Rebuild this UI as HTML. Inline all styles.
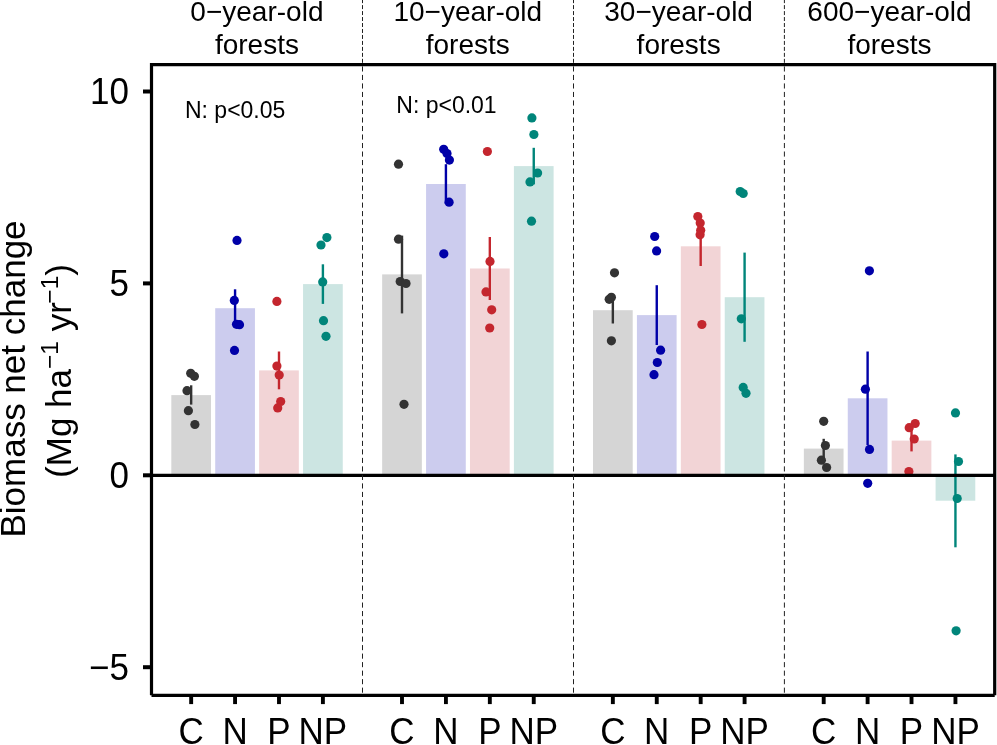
<!DOCTYPE html><html><head><meta charset="utf-8"><style>html,body{margin:0;padding:0;background:#fff;}svg{display:block;will-change:transform;}text{font-family:"Liberation Sans",sans-serif;}</style></head><body>
<svg width="997" height="745" viewBox="0 0 997 745">
<rect width="997" height="745" fill="#fff"/>
<rect x="171.31" y="395.10" width="39.7" height="80.20" fill="#d5d5d5"/>
<rect x="215.22" y="308.20" width="39.7" height="167.10" fill="#ccccee"/>
<rect x="259.13" y="370.40" width="39.7" height="104.90" fill="#f2d4d6"/>
<rect x="303.05" y="284.10" width="39.7" height="191.20" fill="#cce5e2"/>
<rect x="382.15" y="274.40" width="39.7" height="200.90" fill="#d5d5d5"/>
<rect x="426.07" y="184.00" width="39.7" height="291.30" fill="#ccccee"/>
<rect x="469.98" y="268.50" width="39.7" height="206.80" fill="#f2d4d6"/>
<rect x="513.90" y="166.10" width="39.7" height="309.20" fill="#cce5e2"/>
<rect x="593.00" y="310.20" width="39.7" height="165.10" fill="#d5d5d5"/>
<rect x="636.91" y="315.10" width="39.7" height="160.20" fill="#ccccee"/>
<rect x="680.83" y="246.30" width="39.7" height="229.00" fill="#f2d4d6"/>
<rect x="724.74" y="297.20" width="39.7" height="178.10" fill="#cce5e2"/>
<rect x="803.85" y="448.60" width="39.7" height="26.70" fill="#d5d5d5"/>
<rect x="847.76" y="398.30" width="39.7" height="77.00" fill="#ccccee"/>
<rect x="891.67" y="440.60" width="39.7" height="34.70" fill="#f2d4d6"/>
<rect x="935.59" y="475.30" width="39.7" height="25.40" fill="#cce5e2"/>
<line x1="191.16" y1="385.3" x2="191.16" y2="404.6" stroke="#333333" stroke-width="2.4"/>
<circle cx="190.7" cy="373.3" r="4.6" fill="#333333"/>
<circle cx="194.4" cy="376.3" r="4.6" fill="#333333"/>
<circle cx="187" cy="390.7" r="4.6" fill="#333333"/>
<circle cx="188.4" cy="410.7" r="4.6" fill="#333333"/>
<circle cx="194.9" cy="424.5" r="4.6" fill="#333333"/>
<line x1="235.07" y1="289.3" x2="235.07" y2="327.1" stroke="#0000a8" stroke-width="2.4"/>
<circle cx="237" cy="240.4" r="4.6" fill="#0000a8"/>
<circle cx="234.3" cy="300.4" r="4.6" fill="#0000a8"/>
<circle cx="236.5" cy="324.3" r="4.6" fill="#0000a8"/>
<circle cx="239.5" cy="324.7" r="4.6" fill="#0000a8"/>
<circle cx="234.5" cy="350.4" r="4.6" fill="#0000a8"/>
<line x1="278.99" y1="351.5" x2="278.99" y2="389.3" stroke="#c4262e" stroke-width="2.4"/>
<circle cx="276.9" cy="301.4" r="4.6" fill="#c4262e"/>
<circle cx="276.9" cy="366.1" r="4.6" fill="#c4262e"/>
<circle cx="279.2" cy="375" r="4.6" fill="#c4262e"/>
<circle cx="280.7" cy="401.5" r="4.6" fill="#c4262e"/>
<circle cx="277.7" cy="407.9" r="4.6" fill="#c4262e"/>
<line x1="322.90" y1="264.3" x2="322.90" y2="303.9" stroke="#00857a" stroke-width="2.4"/>
<circle cx="326.9" cy="237.6" r="4.6" fill="#00857a"/>
<circle cx="321" cy="245" r="4.6" fill="#00857a"/>
<circle cx="322.7" cy="281.9" r="4.6" fill="#00857a"/>
<circle cx="323.5" cy="320.7" r="4.6" fill="#00857a"/>
<circle cx="326" cy="336.3" r="4.6" fill="#00857a"/>
<line x1="402.00" y1="235.6" x2="402.00" y2="313.4" stroke="#333333" stroke-width="2.4"/>
<circle cx="398.5" cy="164.2" r="4.6" fill="#333333"/>
<circle cx="398.5" cy="239.2" r="4.6" fill="#333333"/>
<circle cx="400.2" cy="281.5" r="4.6" fill="#333333"/>
<circle cx="406" cy="283.5" r="4.6" fill="#333333"/>
<circle cx="404" cy="404.3" r="4.6" fill="#333333"/>
<line x1="445.92" y1="164.2" x2="445.92" y2="203.8" stroke="#0000a8" stroke-width="2.4"/>
<circle cx="443.7" cy="149.3" r="4.6" fill="#0000a8"/>
<circle cx="447" cy="153.6" r="4.6" fill="#0000a8"/>
<circle cx="449.4" cy="160.1" r="4.6" fill="#0000a8"/>
<circle cx="449.1" cy="202.2" r="4.6" fill="#0000a8"/>
<circle cx="443.8" cy="253.8" r="4.6" fill="#0000a8"/>
<line x1="489.83" y1="237.0" x2="489.83" y2="300.0" stroke="#c4262e" stroke-width="2.4"/>
<circle cx="487.4" cy="151.5" r="4.6" fill="#c4262e"/>
<circle cx="490" cy="261.4" r="4.6" fill="#c4262e"/>
<circle cx="486" cy="291.9" r="4.6" fill="#c4262e"/>
<circle cx="491.7" cy="309.8" r="4.6" fill="#c4262e"/>
<circle cx="489.7" cy="328" r="4.6" fill="#c4262e"/>
<line x1="533.75" y1="147.8" x2="533.75" y2="184.4" stroke="#00857a" stroke-width="2.4"/>
<circle cx="531.9" cy="117.9" r="4.6" fill="#00857a"/>
<circle cx="533.9" cy="134.5" r="4.6" fill="#00857a"/>
<circle cx="537.6" cy="173" r="4.6" fill="#00857a"/>
<circle cx="530" cy="181.9" r="4.6" fill="#00857a"/>
<circle cx="531.5" cy="221.2" r="4.6" fill="#00857a"/>
<line x1="612.85" y1="296.9" x2="612.85" y2="323.5" stroke="#333333" stroke-width="2.4"/>
<circle cx="614.5" cy="272.8" r="4.6" fill="#333333"/>
<circle cx="611.4" cy="297.3" r="4.6" fill="#333333"/>
<circle cx="609.2" cy="299.3" r="4.6" fill="#333333"/>
<circle cx="611.4" cy="340.8" r="4.6" fill="#333333"/>
<line x1="656.76" y1="285.2" x2="656.76" y2="345.0" stroke="#0000a8" stroke-width="2.4"/>
<circle cx="654.7" cy="236.5" r="4.6" fill="#0000a8"/>
<circle cx="656.6" cy="250.9" r="4.6" fill="#0000a8"/>
<circle cx="660.6" cy="350.2" r="4.6" fill="#0000a8"/>
<circle cx="657.3" cy="362.5" r="4.6" fill="#0000a8"/>
<circle cx="654" cy="374.7" r="4.6" fill="#0000a8"/>
<line x1="700.68" y1="226.6" x2="700.68" y2="266.0" stroke="#c4262e" stroke-width="2.4"/>
<circle cx="697.8" cy="216.6" r="4.6" fill="#c4262e"/>
<circle cx="700.2" cy="223.0" r="4.6" fill="#c4262e"/>
<circle cx="700.7" cy="230.3" r="4.6" fill="#c4262e"/>
<circle cx="700.1" cy="234.8" r="4.6" fill="#c4262e"/>
<circle cx="701.9" cy="324.5" r="4.6" fill="#c4262e"/>
<line x1="744.59" y1="252.6" x2="744.59" y2="341.8" stroke="#00857a" stroke-width="2.4"/>
<circle cx="740.2" cy="191.5" r="4.6" fill="#00857a"/>
<circle cx="743.2" cy="193.5" r="4.6" fill="#00857a"/>
<circle cx="741.3" cy="318.8" r="4.6" fill="#00857a"/>
<circle cx="743.2" cy="387.4" r="4.6" fill="#00857a"/>
<circle cx="746" cy="393.3" r="4.6" fill="#00857a"/>
<line x1="823.70" y1="438.8" x2="823.70" y2="458.4" stroke="#333333" stroke-width="2.4"/>
<circle cx="823.7" cy="421.3" r="4.6" fill="#333333"/>
<circle cx="825.4" cy="445.5" r="4.6" fill="#333333"/>
<circle cx="821.4" cy="460.2" r="4.6" fill="#333333"/>
<circle cx="826.6" cy="467.5" r="4.6" fill="#333333"/>
<line x1="867.61" y1="351.5" x2="867.61" y2="445.1" stroke="#0000a8" stroke-width="2.4"/>
<circle cx="869.4" cy="270.8" r="4.6" fill="#0000a8"/>
<circle cx="865.4" cy="389.2" r="4.6" fill="#0000a8"/>
<circle cx="869.5" cy="449.4" r="4.6" fill="#0000a8"/>
<circle cx="867.7" cy="483.3" r="4.6" fill="#0000a8"/>
<line x1="911.52" y1="429.4" x2="911.52" y2="451.4" stroke="#c4262e" stroke-width="2.4"/>
<circle cx="915.2" cy="423.5" r="4.6" fill="#c4262e"/>
<circle cx="909.2" cy="427.7" r="4.6" fill="#c4262e"/>
<circle cx="914.2" cy="439" r="4.6" fill="#c4262e"/>
<circle cx="908.9" cy="471.5" r="4.6" fill="#c4262e"/>
<line x1="955.44" y1="454.4" x2="955.44" y2="547.3" stroke="#00857a" stroke-width="2.4"/>
<circle cx="955.5" cy="412.9" r="4.6" fill="#00857a"/>
<circle cx="958.5" cy="461.5" r="4.6" fill="#00857a"/>
<circle cx="957.2" cy="498.5" r="4.6" fill="#00857a"/>
<circle cx="956.1" cy="630.8" r="4.6" fill="#00857a"/>
<line x1="151.5" y1="475.3" x2="994.7" y2="475.3" stroke="#000" stroke-width="3.3"/>
<line x1="362.5" y1="0" x2="362.5" y2="63" stroke="#222" stroke-width="1" stroke-dasharray="4 1.97" stroke-dashoffset="0.87"/>
<line x1="362.5" y1="66.4" x2="362.5" y2="694" stroke="#222" stroke-width="1" stroke-dasharray="5.1 3.41"/>
<line x1="573.5" y1="0" x2="573.5" y2="63" stroke="#222" stroke-width="1" stroke-dasharray="4 1.97" stroke-dashoffset="0.87"/>
<line x1="573.5" y1="66.4" x2="573.5" y2="694" stroke="#222" stroke-width="1" stroke-dasharray="5.1 3.41"/>
<line x1="784.4" y1="0" x2="784.4" y2="63" stroke="#222" stroke-width="1" stroke-dasharray="4 1.97" stroke-dashoffset="0.87"/>
<line x1="784.4" y1="66.4" x2="784.4" y2="694" stroke="#222" stroke-width="1" stroke-dasharray="5.1 3.41"/>
<path d="M151.5,695.3 V64.7 H994.7 V695.3" fill="none" stroke="#000" stroke-width="3.2" stroke-linejoin="miter"/>
<path d="M151.5,695.3 H994.7" fill="none" stroke="#000" stroke-width="3.2"/>
<line x1="143" y1="91.50" x2="151.5" y2="91.50" stroke="#000" stroke-width="4"/>
<text transform="translate(129,104.10) scale(1,1.04)" font-size="35" text-anchor="end">10</text>
<line x1="143" y1="283.40" x2="151.5" y2="283.40" stroke="#000" stroke-width="4"/>
<text transform="translate(129,296.00) scale(1,1.04)" font-size="35" text-anchor="end">5</text>
<line x1="143" y1="475.30" x2="151.5" y2="475.30" stroke="#000" stroke-width="4"/>
<text transform="translate(129,487.90) scale(1,1.04)" font-size="35" text-anchor="end">0</text>
<line x1="143" y1="667.20" x2="151.5" y2="667.20" stroke="#000" stroke-width="4"/>
<text transform="translate(129,679.80) scale(1,1.04)" font-size="35" text-anchor="end">−5</text>
<line x1="191.16" y1="695" x2="191.16" y2="704.1" stroke="#000" stroke-width="3.9"/>
<text transform="translate(191.16,743.6) scale(1,1.04)" font-size="35" text-anchor="middle">C</text>
<line x1="235.07" y1="695" x2="235.07" y2="704.1" stroke="#000" stroke-width="3.9"/>
<text transform="translate(235.07,743.6) scale(1,1.04)" font-size="35" text-anchor="middle">N</text>
<line x1="278.99" y1="695" x2="278.99" y2="704.1" stroke="#000" stroke-width="3.9"/>
<text transform="translate(278.99,743.6) scale(1,1.04)" font-size="35" text-anchor="middle">P</text>
<line x1="322.90" y1="695" x2="322.90" y2="704.1" stroke="#000" stroke-width="3.9"/>
<text transform="translate(322.90,743.6) scale(1,1.04)" font-size="35" text-anchor="middle">NP</text>
<line x1="402.00" y1="695" x2="402.00" y2="704.1" stroke="#000" stroke-width="3.9"/>
<text transform="translate(402.00,743.6) scale(1,1.04)" font-size="35" text-anchor="middle">C</text>
<line x1="445.92" y1="695" x2="445.92" y2="704.1" stroke="#000" stroke-width="3.9"/>
<text transform="translate(445.92,743.6) scale(1,1.04)" font-size="35" text-anchor="middle">N</text>
<line x1="489.83" y1="695" x2="489.83" y2="704.1" stroke="#000" stroke-width="3.9"/>
<text transform="translate(489.83,743.6) scale(1,1.04)" font-size="35" text-anchor="middle">P</text>
<line x1="533.75" y1="695" x2="533.75" y2="704.1" stroke="#000" stroke-width="3.9"/>
<text transform="translate(533.75,743.6) scale(1,1.04)" font-size="35" text-anchor="middle">NP</text>
<line x1="612.85" y1="695" x2="612.85" y2="704.1" stroke="#000" stroke-width="3.9"/>
<text transform="translate(612.85,743.6) scale(1,1.04)" font-size="35" text-anchor="middle">C</text>
<line x1="656.76" y1="695" x2="656.76" y2="704.1" stroke="#000" stroke-width="3.9"/>
<text transform="translate(656.76,743.6) scale(1,1.04)" font-size="35" text-anchor="middle">N</text>
<line x1="700.68" y1="695" x2="700.68" y2="704.1" stroke="#000" stroke-width="3.9"/>
<text transform="translate(700.68,743.6) scale(1,1.04)" font-size="35" text-anchor="middle">P</text>
<line x1="744.59" y1="695" x2="744.59" y2="704.1" stroke="#000" stroke-width="3.9"/>
<text transform="translate(744.59,743.6) scale(1,1.04)" font-size="35" text-anchor="middle">NP</text>
<line x1="823.70" y1="695" x2="823.70" y2="704.1" stroke="#000" stroke-width="3.9"/>
<text transform="translate(823.70,743.6) scale(1,1.04)" font-size="35" text-anchor="middle">C</text>
<line x1="867.61" y1="695" x2="867.61" y2="704.1" stroke="#000" stroke-width="3.9"/>
<text transform="translate(867.61,743.6) scale(1,1.04)" font-size="35" text-anchor="middle">N</text>
<line x1="911.52" y1="695" x2="911.52" y2="704.1" stroke="#000" stroke-width="3.9"/>
<text transform="translate(911.52,743.6) scale(1,1.04)" font-size="35" text-anchor="middle">P</text>
<line x1="955.44" y1="695" x2="955.44" y2="704.1" stroke="#000" stroke-width="3.9"/>
<text transform="translate(955.44,743.6) scale(1,1.04)" font-size="35" text-anchor="middle">NP</text>
<text transform="translate(256.92,20.8)" font-size="28" text-anchor="middle">0−year-old</text>
<text transform="translate(256.92,53.8)" font-size="28" text-anchor="middle">forests</text>
<text transform="translate(467.77,20.8)" font-size="28" text-anchor="middle">10−year-old</text>
<text transform="translate(467.77,53.8)" font-size="28" text-anchor="middle">forests</text>
<text transform="translate(678.62,20.8)" font-size="28" text-anchor="middle">30−year-old</text>
<text transform="translate(678.62,53.8)" font-size="28" text-anchor="middle">forests</text>
<text transform="translate(889.46,20.8)" font-size="28" text-anchor="middle">600−year-old</text>
<text transform="translate(889.46,53.8)" font-size="28" text-anchor="middle">forests</text>
<text transform="translate(185,117.9) scale(1,1.02)" font-size="23">N: p&lt;0.05</text>
<text transform="translate(396.3,112.9) scale(1,1.02)" font-size="23">N: p&lt;0.01</text>
<text transform="translate(25.3,379) rotate(-90)" font-size="35" text-anchor="middle">Biomass net change</text>
<text transform="translate(71,371) rotate(-90)" font-size="35" text-anchor="middle">(Mg ha<tspan font-size="24.5" dy="-13.2">−1</tspan><tspan dy="13.2"> yr</tspan><tspan font-size="24.5" dx="-1.5" dy="-13.2">−1</tspan><tspan dy="13.2">)</tspan></text>
</svg></body></html>
